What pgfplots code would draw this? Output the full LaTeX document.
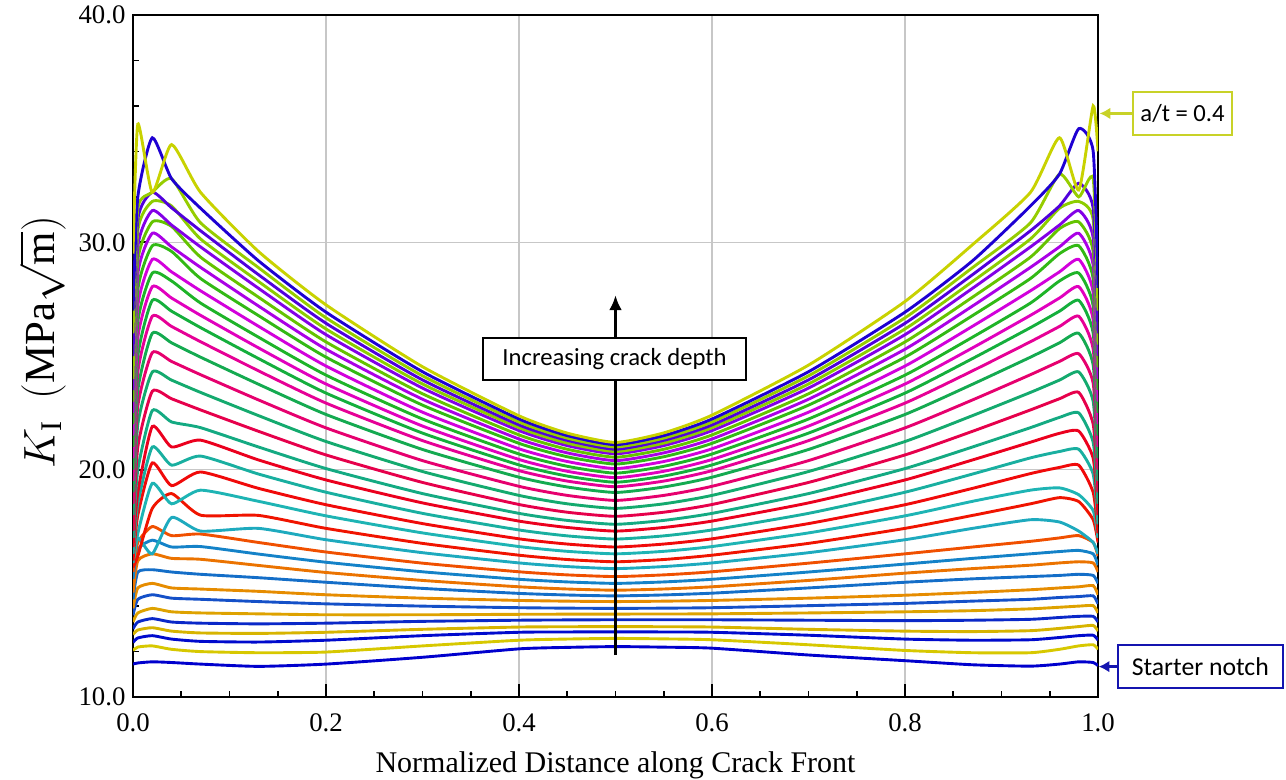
\documentclass[border=0pt]{standalone}
\usepackage{pgfplots}
\pgfplotsset{compat=1.18}
\usepackage{pgfplotstable}
\usetikzlibrary{arrows.meta}
\usepackage{fontspec}
\setmainfont{Liberation Serif}
\newfontfamily\carlito{Carlito}

% curve colours, bottom (starter notch) to top (a/t = 0.4)
\definecolor{col1}{RGB}{0,0,205}
\definecolor{col2}{RGB}{215,200,0}
\definecolor{col3}{RGB}{0,10,205}
\definecolor{col4}{RGB}{215,180,0}
\definecolor{col5}{RGB}{10,40,200}
\definecolor{col6}{RGB}{222,162,0}
\definecolor{col7}{RGB}{20,80,200}
\definecolor{col8}{RGB}{230,140,0}
\definecolor{col9}{RGB}{20,110,200}
\definecolor{col10}{RGB}{235,115,0}
\definecolor{col11}{RGB}{20,130,200}
\definecolor{col12}{RGB}{240,80,0}
\definecolor{col13}{RGB}{30,170,190}
\definecolor{col14}{RGB}{240,20,0}
\definecolor{col15}{RGB}{30,180,180}
\definecolor{col16}{RGB}{240,10,10}
\definecolor{col17}{RGB}{25,175,160}
\definecolor{col18}{RGB}{235,0,30}
\definecolor{col19}{RGB}{20,170,130}
\definecolor{col20}{RGB}{230,0,75}
\definecolor{col21}{RGB}{20,170,110}
\definecolor{col22}{RGB}{230,0,110}
\definecolor{col23}{RGB}{20,170,80}
\definecolor{col24}{RGB}{230,0,150}
\definecolor{col25}{RGB}{20,175,60}
\definecolor{col26}{RGB}{225,0,190}
\definecolor{col27}{RGB}{30,180,40}
\definecolor{col28}{RGB}{210,0,220}
\definecolor{col29}{RGB}{50,185,20}
\definecolor{col30}{RGB}{170,0,230}
\definecolor{col31}{RGB}{100,195,0}
\definecolor{col32}{RGB}{130,0,230}
\definecolor{col33}{RGB}{140,205,0}
\definecolor{col34}{RGB}{80,0,220}
\definecolor{col35}{RGB}{150,205,0}
\definecolor{col36}{RGB}{30,0,210}
\definecolor{col37}{RGB}{200,210,0}
\definecolor{atcol}{RGB}{200,210,40}
\definecolor{notchcol}{RGB}{20,20,175}

% one row per curve
\pgfplotstableread{
name p0 p1 p2 p3 p4 p5 p6 p7 p8 p8b p9 p9b p10 p11 p12 p13 p14 p15 p16 p17 p18
x 0 0.005 0.02 0.04 0.07 0.13 0.2 0.3 0.4 0.45 0.5 0.55 0.6 0.7 0.8 0.87 0.93 0.96 0.98 0.995 1
c1 11.45 11.5 11.55 11.52 11.45 11.35 11.45 11.75 12.12 12.185 12.22 12.195 12.15 11.85 11.6 11.42 11.36 11.45 11.55 11.52 11.38
c2 12.05 12.2 12.25 12.1 12.0 11.95 11.98 12.25 12.5 12.552 12.58 12.559 12.52 12.3 12.05 11.95 11.95 12.1 12.25 12.3 12.1
c3 12.4 12.6 12.7 12.55 12.45 12.42 12.5 12.7 12.85 12.863 12.87 12.863 12.85 12.72 12.55 12.5 12.52 12.62 12.7 12.72 12.5
c4 12.75 12.95 13.05 12.9 12.82 12.8 12.85 12.98 13.08 13.093 13.1 13.093 13.08 12.98 12.9 12.88 12.92 13.02 13.1 13.15 12.9
c5 13.0 13.3 13.45 13.3 13.25 13.22 13.25 13.33 13.38 13.393 13.4 13.4 13.4 13.38 13.36 13.38 13.42 13.5 13.55 13.55 13.3
c6 13.3 13.7 13.9 13.75 13.7 13.66 13.62 13.62 13.64 13.646 13.65 13.654 13.66 13.7 13.75 13.8 13.88 13.95 14.0 14.02 13.7
c7 13.6 14.3 14.5 14.35 14.3 14.2 14.1 14.0 13.93 13.911 13.9 13.911 13.93 14.02 14.12 14.22 14.3 14.38 14.42 14.45 14.1
c8 13.9 14.8 15.0 14.8 14.75 14.65 14.5 14.35 14.25 14.218 14.2 14.218 14.25 14.35 14.48 14.6 14.72 14.8 14.85 14.9 14.5
c9 14.3 15.5 15.6 15.5 15.4 15.25 15.05 14.78 14.56 14.489 14.45 14.492 14.57 14.8 15.05 15.2 15.3 15.35 15.4 15.35 15.0
c10 14.6 16.0 16.3 16.1 16.06 15.79 15.48 15.13 14.85 14.753 14.7 14.753 14.85 15.13 15.45 15.65 15.8 15.9 15.95 15.9 15.5
c11 15.2 16.5 16.9 16.6 16.62 16.29 15.93 15.51 15.18 15.064 15.0 15.064 15.18 15.5 15.85 16.1 16.3 16.4 16.45 16.3 15.8
c12 15.5 16.8 17.5 17.1 17.17 16.8 16.38 15.89 15.51 15.374 15.3 15.374 15.51 15.89 16.3 16.6 16.85 17.0 17.1 16.8 16.2
c13 15.8 17.0 16.3 17.9 17.3 17.42 16.92 16.35 15.9 15.74 15.65 15.74 15.9 16.35 16.92 17.42 17.8 17.7 17.3 16.8 16.3
c14 15.7 16.2 18.3 18.95 18.0 17.99 17.42 16.76 16.24 16.05 15.95 16.05 16.24 16.76 17.42 17.99 18.5 18.77 18.6 17.8 16.8
c15 15.9 17.2 19.4 18.5 19.1 18.61 17.97 17.22 16.62 16.41 16.3 16.41 16.62 17.22 17.97 18.61 19.1 19.2 18.9 18.2 17.0
c16 16.0 18.0 20.3 19.3 19.9 19.18 18.46 17.63 16.96 16.73 16.6 16.73 16.96 17.63 18.46 19.18 19.83 20.1 20.2 19.0 17.2
c17 16.3 18.5 21.0 20.2 20.6 19.81 19.01 18.08 17.35 17.09 16.95 17.09 17.35 18.08 19.01 19.81 20.52 20.8 20.9 19.8 17.6
c18 16.6 19.0 21.9 21.0 21.3 20.43 19.55 18.54 17.74 17.46 17.3 17.46 17.74 18.54 19.55 20.43 21.21 21.6 21.7 20.5 18.0
c19 17.0 20.0 22.6 22.1 21.85 21.0 20.05 18.95 18.08 17.77 17.6 17.77 18.08 18.95 20.05 21.0 21.85 22.3 22.5 21.2 18.5
c20 17.3 21.0 23.45 23.12 22.63 21.69 20.65 19.44 18.47 18.13 17.95 18.13 18.47 19.44 20.65 21.69 22.63 23.12 23.4 22.0 19.0
c21 18.0 22.0 24.3 23.94 23.4 22.38 21.24 19.92 18.87 18.5 18.3 18.5 18.87 19.92 21.24 22.38 23.4 23.94 24.3 23.0 19.5
c22 18.5 22.8 25.15 24.76 24.18 23.07 21.84 20.4 19.27 18.87 18.65 18.87 19.27 20.4 21.84 23.07 24.18 24.76 25.1 23.8 20.0
c23 19.0 23.5 26.0 25.58 24.95 23.76 22.43 20.89 19.67 19.24 19.0 19.24 19.67 20.89 22.43 23.76 24.95 25.58 26.0 24.6 20.5
c24 19.5 24.3 26.75 26.3 25.63 24.35 22.93 21.28 19.96 19.5 19.25 19.5 19.96 21.28 22.93 24.35 25.63 26.3 26.75 25.3 21.0
c25 20.0 25.0 27.45 26.97 26.25 24.89 23.37 21.61 20.21 19.72 19.45 19.72 20.21 21.61 23.37 24.89 26.25 26.97 27.45 26.0 21.5
c26 20.5 25.8 28.05 27.55 26.79 25.36 23.77 21.92 20.45 19.93 19.65 19.93 20.45 21.92 23.77 25.36 26.79 27.55 28.05 26.6 22.0
c27 21.0 26.5 28.65 28.3 27.33 25.83 24.16 22.23 20.69 20.15 19.85 20.15 20.69 22.23 24.16 25.83 27.33 28.3 28.65 27.2 22.5
c28 21.5 27.2 29.25 28.7 27.87 26.31 24.56 22.53 20.92 20.36 20.05 20.36 20.92 22.53 24.56 26.31 27.87 28.7 29.25 27.8 23.0
c29 22.0 27.9 29.85 29.6 28.41 26.78 24.95 22.84 21.16 20.57 20.25 20.57 21.16 22.84 24.95 26.78 28.41 29.5 29.85 28.4 23.5
c30 22.5 28.6 30.4 29.8 28.9 27.2 25.3 23.1 21.35 20.74 20.4 20.74 21.35 23.1 25.3 27.2 28.9 29.8 30.4 29.0 24.0
c31 23.0 29.2 30.9 30.7 29.35 27.59 25.62 23.34 21.53 20.9 20.55 20.9 21.53 23.34 25.62 27.59 29.35 30.6 30.9 29.6 24.5
c32 23.5 29.8 31.4 30.76 29.8 27.98 25.94 23.59 21.72 21.06 20.7 21.06 21.72 23.59 25.94 27.98 29.8 30.76 31.4 30.2 25.0
c33 24.0 30.5 31.8 31.6 30.15 28.28 26.19 23.77 21.85 21.17 20.8 21.17 21.85 23.77 26.19 28.28 30.15 31.5 31.8 31.0 25.5
c34 25.0 31.0 32.2 31.52 30.51 28.58 26.44 23.95 21.97 21.29 20.9 21.29 21.97 23.95 26.44 28.58 30.51 31.6 32.6 31.5 26.0
c35 26.0 31.5 32.2 32.8 30.86 28.89 26.68 24.13 22.1 21.39 21.0 21.39 22.1 24.13 26.68 28.89 30.86 33.0 32.0 32.8 27.0
c36 27.0 32.0 34.6 32.8 31.5 29.19 26.93 24.31 22.23 21.5 21.1 21.5 22.23 24.31 26.93 29.19 31.6 33.0 35.0 34.0 28.0
c37 29.5 35.2 32.2 34.3 32.2 29.6 27.25 24.53 22.37 21.61 21.2 21.62 22.4 24.6 27.4 29.9 32.2 34.6 32.3 36.0 34.0
}\raw
\pgfplotstabletranspose[colnames from=name]\curves\raw

\begin{document}
\begin{tikzpicture}
\begin{axis}[
    scale only axis,
    width=450.2pt, height=318.2pt,
    xmin=0, xmax=1, ymin=10, ymax=40,
    xtick={0,0.2,0.4,0.6,0.8,1},
    ytick={10,20,30,40},
    minor x tick num=3,
    minor y tick num=4,
    tick pos=left,
    tick align=inside,
    major tick length=6pt,
    minor tick length=3pt,
    every tick/.style={black, line width=0.8pt},
    axis line style={line width=0.9pt},
    xmajorgrids, ymajorgrids,
    grid style={black!22, line width=0.7pt},
    /pgf/number format/.cd, fixed, fixed zerofill, precision=1, assume math mode=true,
    /pgfplots/.cd,
    ticklabel style={font=\fontsize{12.5}{14}\selectfont},
    xticklabel style={yshift=-4pt},
    xlabel={Normalized Distance along Crack Front},
    xlabel style={font=\fontsize{14}{16}\selectfont, at={(axis description cs:0.5,0)}, anchor=center, yshift=-32pt},
    ylabel={$K_{\mathrm{I}}\ \ (\mathrm{MPa}\sqrt{\mathrm{m}})$},
    ylabel style={font=\fontsize{20}{24}\selectfont, at={(axis description cs:-0.094,0.52)}, anchor=center},
    every axis plot/.append style={line width=1.35pt, smooth, tension=0.35},
]
\pgfplotsinvokeforeach{1,...,37}{
  \addplot[col#1] table[x=x, y=c#1] {\curves};
}
\coordinate (boxmid) at (axis cs:0.499,24.87);
\coordinate (arrlow) at (axis cs:0.5,11.85);
\coordinate (arrtop) at (axis cs:0.5,27.68);
\coordinate (atbox) at (axis cs:1.0876,35.67);
\coordinate (notchbox) at (axis cs:1.106,11.34);
\end{axis}

\draw[line width=1.4pt, -{Latex[length=7pt,width=6pt]}] (arrlow) -- (arrtop);
\node[draw=black, line width=0.7pt, fill=white, minimum width=122.7pt, minimum height=19.6pt,
      inner sep=1pt, font=\carlito\fontsize{11.5}{13}\selectfont] at (boxmid) {Increasing crack depth};

\node[draw=atcol, line width=1pt, fill=white, minimum width=46pt, minimum height=20pt,
      inner sep=1pt, font=\carlito\fontsize{11.5}{13}\selectfont] (at) at (atbox) {a/t = 0.4};
\draw[atcol, line width=1.3pt, -{Latex[length=5pt,width=5.5pt]}] (at.west) -- ++(-15.2pt,0);

\node[draw=notchcol, line width=1pt, fill=white, minimum width=77pt, minimum height=20pt,
      inner sep=1pt, font=\carlito\fontsize{12}{14}\selectfont] (sn) at (notchbox) {Starter notch};
\draw[notchcol, line width=1.3pt, -{Latex[length=5pt,width=5.5pt]}] (sn.west) -- ++(-8.4pt,0);

\pgfresetboundingbox
\path[use as bounding box] ([xshift=-62.05pt,yshift=-38.3pt]current axis.south west)
    rectangle ([xshift=87.7pt,yshift=7pt]current axis.north east);
\end{tikzpicture}
\end{document}
